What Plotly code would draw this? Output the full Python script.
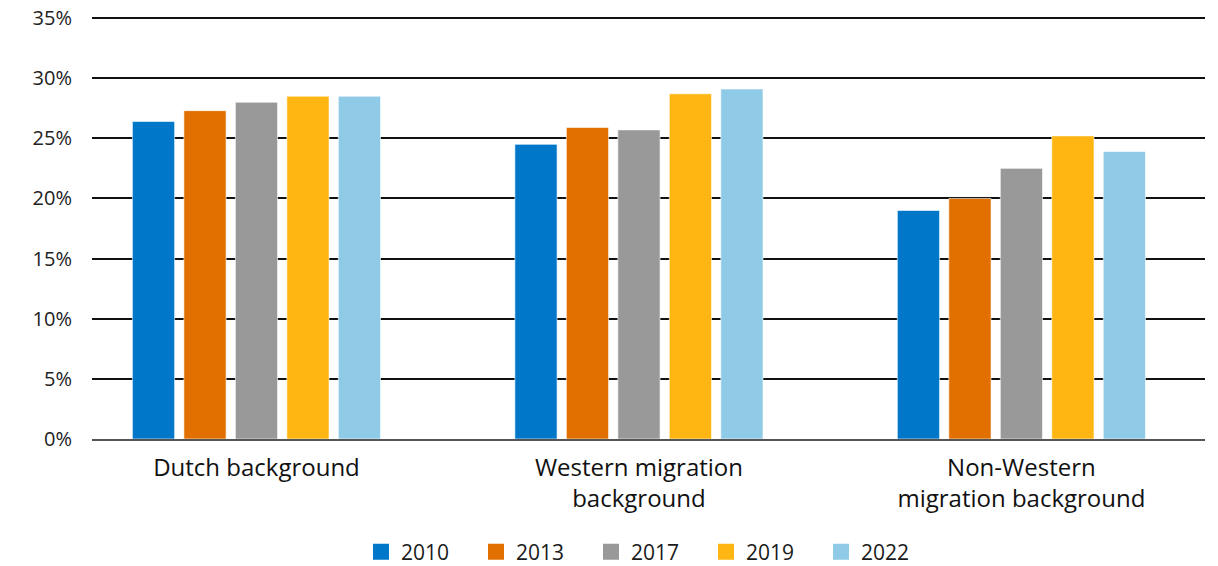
import plotly.graph_objects as go

categories = ["Dutch background", "Western migration<br>background", "Non-Western<br>migration background"]
years = ["2010", "2013", "2017", "2019", "2022"]
values = {
    "2010": [26.4, 24.5, 19.0],
    "2013": [27.3, 25.9, 20.0],
    "2017": [28.0, 25.7, 22.5],
    "2019": [28.5, 28.7, 25.2],
    "2022": [28.5, 29.1, 23.9],
}
colors = {
    "2010": "#0077c8",
    "2013": "#e17000",
    "2017": "#999999",
    "2019": "#ffb612",
    "2022": "#8fcae7",
}
y_ticks = [0, 5, 10, 15, 20, 25, 30, 35]

FONT = "Open Sans"
fig = go.Figure()
for yr in years:
    fig.add_trace(go.Bar(
        x=categories, y=values[yr], name=yr,
        marker=dict(color=colors[yr], line=dict(color="rgba(255,255,255,0.6)", width=1)),
        showlegend=False,
    ))
for yr in years:
    fig.add_trace(go.Scatter(
        x=[None], y=[None], mode="markers", name=yr,
        marker=dict(symbol="square", size=22, color=colors[yr]),
        showlegend=True,
    ))

fig.update_layout(
    width=1218, height=566,
    margin=dict(l=92, r=13, t=12, b=127, autoexpand=False),
    plot_bgcolor="white", paper_bgcolor="white",
    barmode="group", bargap=0.327, bargroupgap=0.18,
    font=dict(family=FONT, color="#1a1a1a"),
    legend=dict(
        orientation="h", x=0.5, xanchor="center", y=-0.265, yanchor="middle",
        font=dict(size=21, family=FONT), itemsizing="trace",
        entrywidth=70, itemwidth=30,
    ),
    xaxis=dict(
        range=[-0.43, 2.48], showgrid=False, showline=True,
        linecolor="#555555", linewidth=2, automargin=False,
        tickfont=dict(size=24, family=FONT, color="#111111"),
        ticks="", ticklabelstandoff=6,
    ),
    yaxis=dict(
        range=[0, 35.5], tickvals=y_ticks,
        ticktext=[f"{v}%" for v in y_ticks],
        showgrid=True, gridcolor="#111111", gridwidth=2,
        zeroline=False, showline=False, automargin=False,
        tickfont=dict(size=20, family=FONT, color="#222222"),
        ticklabelstandoff=19, ticklabeloverflow="allow",
    ),
)
fig.write_html(
    "out.html",
    config={"displayModeBar": False},
    post_script="document.body.style.margin='0';document.body.style.overflow='hidden';",
)
